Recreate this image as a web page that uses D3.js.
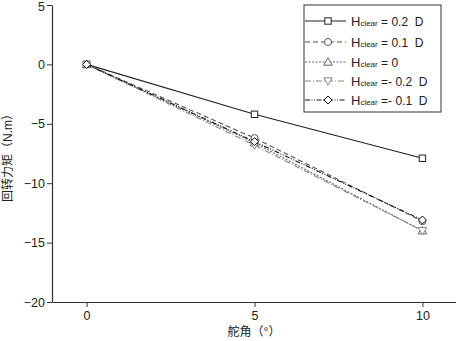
<!DOCTYPE html>
<html>
<head>
<meta charset="utf-8">
<script src="https://cdn.jsdelivr.net/npm/d3@7"></script>
<style>
  body { margin: 0; background: #fff; }
  text { font-family: "Liberation Sans", Arial, "Noto Sans CJK SC", sans-serif; white-space: pre; }
</style>
</head>
<body>
<script>
// rudder angle (deg)
var angles = [0, 5, 10];
// series: Hclear values
var seriesNames = ["= 0.2  D", "= 0.1  D", "= 0", "=- 0.2  D", "=- 0.1  D"];
var m02 = [0, -4.2, -7.9];
var m01 = [0, -6.2, -13.2];
var m00 = [0, -6.6, -14.0];
var mN02 = [0, -6.8, -14.0];
var mN01 = [0, -6.5, -13.1];
var xTicks = [0, 5, 10];
var yTicks = [5, 0, -5, -10, -15, -20];

var series = [
  { name: seriesNames[0], vals: m02, color: "#222", dash: null, sym: "square" },
  { name: seriesNames[1], vals: m01, color: "#555", dash: "5,3", sym: "circle" },
  { name: seriesNames[2], vals: m00, color: "#666", dash: "2,1.5", sym: "up" },
  { name: seriesNames[3], vals: mN02, color: "#888", dash: "6,2,1,2", sym: "down" },
  { name: seriesNames[4], vals: mN01, color: "#111", dash: "5,1.5,1,1.5,1,1.5", sym: "diamond" }
];

var W = 456, H = 341;
var svg = d3.select("body").append("svg").attr("width", W).attr("height", H);

var x = d3.scaleLinear().domain([-1.03, 11]).range([52, 456]);
var y = d3.scaleLinear().domain([-20, 5]).range([302, 5]);

// axes
svg.append("g").attr("transform", "translate(0,302)")
  .call(d3.axisBottom(x).tickValues(xTicks).tickSize(5).tickPadding(4).tickSizeOuter(0))
  .call(function (g) {
    g.select(".domain").attr("stroke", "#333").attr("stroke-width", 1.2);
    g.selectAll("line").attr("stroke", "#333");
    g.selectAll("text").attr("font-size", 12.5).attr("fill", "#222");
  });
svg.append("g").attr("transform", "translate(52,0)")
  .call(d3.axisLeft(y).tickValues(yTicks).tickSize(5).tickPadding(2).tickSizeOuter(0)
    .tickFormat(function (d) { return d < 0 ? "\u2212" + Math.abs(d) : d; }))
  .call(function (g) {
    g.select(".domain").attr("stroke", "#333").attr("stroke-width", 1.2);
    g.selectAll("line").attr("stroke", "#333");
    g.selectAll("text").attr("font-size", 12.5).attr("fill", "#222");
    // keep the top label inside the page
    g.selectAll(".tick").filter(function (d) { return d === 5; }).select("text").attr("dy", "0.45em");
  });

svg.append("text").attr("x", 254).attr("y", 336).attr("text-anchor", "middle")
  .attr("font-size", 12).attr("fill", "#222").text("舵角（°）");
svg.append("text").attr("transform", "translate(12,155) rotate(-90)")
  .attr("text-anchor", "middle").attr("font-size", 12).attr("fill", "#222")
  .text("回转力矩（N.m）");

function marker(g, sym, cx, cy, color) {
  var s = 3.2;
  if (sym === "square") {
    g.append("rect").attr("x", cx - s).attr("y", cy - s).attr("width", 2 * s).attr("height", 2 * s)
      .attr("fill", "#fff").attr("stroke", color).attr("stroke-width", 1);
  } else if (sym === "circle") {
    g.append("circle").attr("cx", cx).attr("cy", cy).attr("r", s + 0.3)
      .attr("fill", "#fff").attr("stroke", color);
  } else {
    var pts;
    if (sym === "up") pts = [[0, -s - 1], [s + 1, s], [-s - 1, s]];
    else if (sym === "down") pts = [[0, s + 1], [s + 1, -s], [-s - 1, -s]];
    else pts = [[0, -s - 0.8], [s + 0.8, 0], [0, s + 0.8], [-s - 0.8, 0]];
    g.append("polygon").attr("points", pts.map(function (p) { return (cx + p[0]) + "," + (cy + p[1]); }).join(" "))
      .attr("fill", "#fff").attr("stroke", color);
  }
}

var line = d3.line().x(function (d, i) { return x(angles[i]); }).y(function (d) { return y(d); });

series.forEach(function (s) {
  var g = svg.append("g");
  g.append("path").datum(s.vals).attr("d", line).attr("fill", "none")
    .attr("stroke", s.color).attr("stroke-width", 1.1).attr("stroke-dasharray", s.dash);
  s.vals.forEach(function (v, i) { marker(g, s.sym, x(angles[i]), y(v), s.color); });
});

// legend
var lg = svg.append("g");
lg.append("rect").attr("x", 304).attr("y", 5).attr("width", 137).attr("height", 107)
  .attr("fill", "#fff").attr("stroke", "#333").attr("stroke-width", 1);
var rowY = [21, 42, 62, 81, 100];
series.forEach(function (s, i) {
  var ry = rowY[i];
  lg.append("line").attr("x1", 305).attr("x2", 346).attr("y1", ry).attr("y2", ry)
    .attr("stroke", s.color).attr("stroke-width", 1.1).attr("stroke-dasharray", s.dash);
  marker(lg, s.sym, 328, ry, s.color);
  var t = lg.append("text").attr("x", 351).attr("y", ry + 5).attr("fill", "#222").attr("font-size", 13);
  t.append("tspan").text("H");
  t.append("tspan").attr("font-size", 8).text("clear");
  t.append("tspan").attr("font-size", 12).text(" " + s.name);
});
</script>
</body>
</html>
